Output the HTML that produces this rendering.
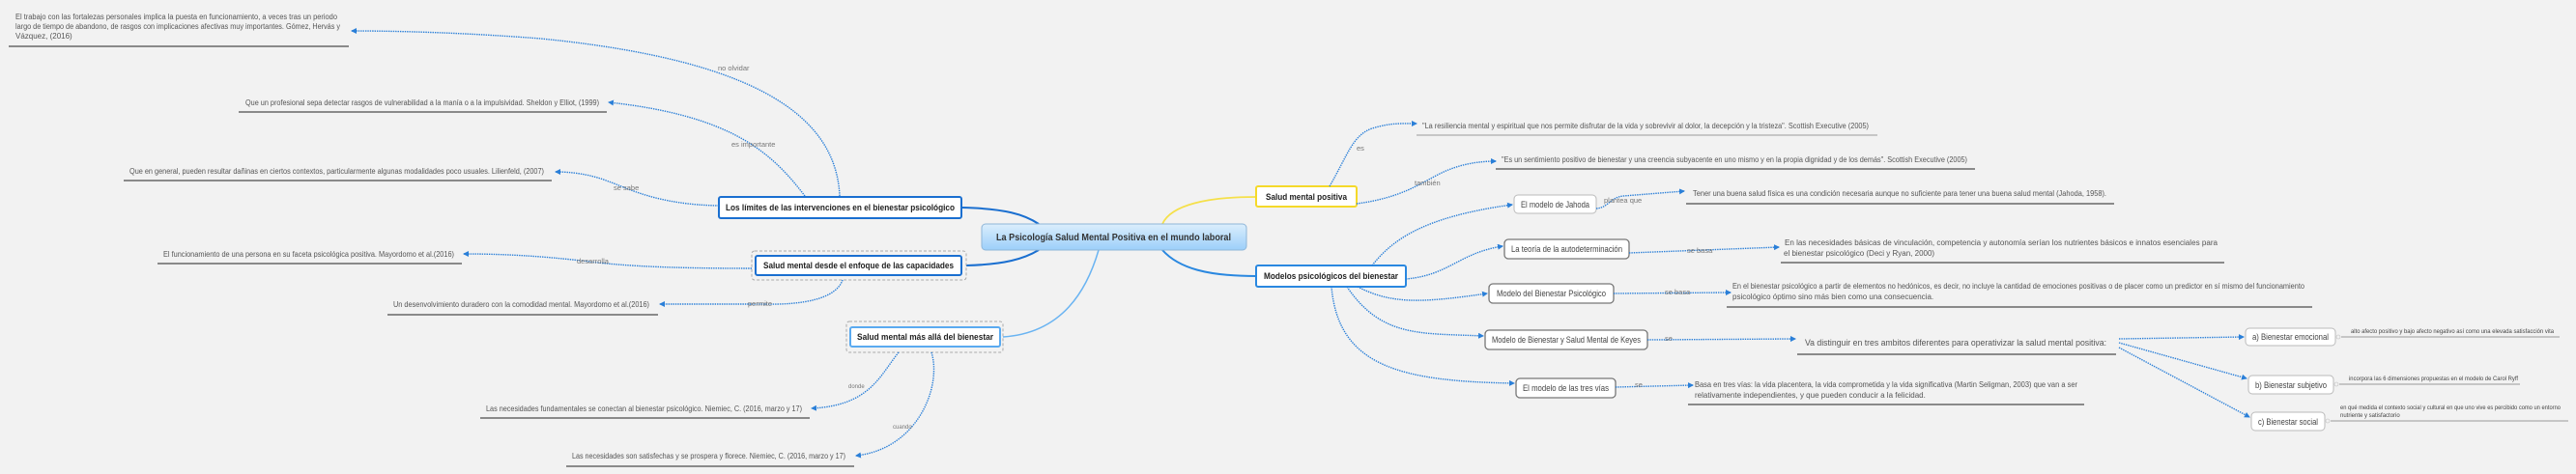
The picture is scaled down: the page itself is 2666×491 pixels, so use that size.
<!DOCTYPE html>
<html><head><meta charset="utf-8"><style>
html,body{margin:0;padding:0;background:#f2f2f2;}
svg{display:block;}
text{font-family:"Liberation Sans Narrow","Liberation Sans",sans-serif;fill:#555;}
.t{font-size:8px;}
.n{font-size:9px;fill:#222;font-weight:bold;}
.m{font-size:9px;fill:#444;}
.l{font-size:7.5px;fill:#777;}
.ul{stroke:#8a8a8a;stroke-width:2;}
.ul1{stroke:#9a9a9a;stroke-width:1;}
.d{fill:none;stroke:#2a7fd8;stroke-width:1.4;stroke-dasharray:1.4 1;}
</style></head><body>
<svg width="2666" height="491" viewBox="0 0 2666 491" xmlns="http://www.w3.org/2000/svg">
<defs>
<marker id="a" markerWidth="6" markerHeight="6" refX="5" refY="3" orient="auto" markerUnits="userSpaceOnUse"><path d="M0,0 L6,3 L0,6 Z" fill="#2a7fd8"/></marker>
<linearGradient id="g" x1="0" y1="0" x2="0" y2="1"><stop offset="0" stop-color="#dbeefc"/><stop offset="1" stop-color="#9ccffa"/></linearGradient>
</defs>

<!-- main solid connectors -->
<path d="M995,215 C1040,216 1060,222 1075,232" fill="none" stroke="#1a6fd0" stroke-width="2"/>
<path d="M1000,275 C1040,274 1060,268 1075,259" fill="none" stroke="#1a6fd0" stroke-width="2"/>
<path d="M1038,349 C1100,345 1125,300 1137,259" fill="none" stroke="#6ab4f2" stroke-width="1.5"/>
<path d="M1300,204 C1250,204 1212,212 1203,232" fill="none" stroke="#f5e04a" stroke-width="1.8"/>
<path d="M1300,286 C1250,286 1220,278 1203,259" fill="none" stroke="#2a88e0" stroke-width="2"/>

<!-- central -->
<rect x="1016" y="232" width="274" height="27" rx="4" fill="url(#g)" stroke="#8fb6d8"/>
<text x="1031" y="249" textLength="243" lengthAdjust="spacingAndGlyphs" style="font-size:10px;font-weight:bold;fill:#333;">La Psicología Salud Mental Positiva en el mundo laboral</text>

<!-- left nodes -->
<rect x="744" y="204" width="251" height="22" rx="2" fill="#fff" stroke="#1a6fd0" stroke-width="2"/>
<text class="n" x="751" y="218" textLength="237" lengthAdjust="spacingAndGlyphs">Los límites de las intervenciones en el bienestar psicológico</text>
<rect x="778" y="260" width="222" height="30" rx="3" fill="none" stroke="#aaa" stroke-dasharray="3 2"/>
<rect x="782" y="265" width="213" height="20" rx="2" fill="#fff" stroke="#1a6fd0" stroke-width="2"/>
<text class="n" x="790" y="278" textLength="197" lengthAdjust="spacingAndGlyphs">Salud mental desde el enfoque de las capacidades</text>
<rect x="876" y="333" width="162" height="32" rx="3" fill="none" stroke="#aaa" stroke-dasharray="3 2"/>
<rect x="880" y="339" width="155" height="20" rx="2" fill="#fff" stroke="#5aaaf0" stroke-width="2"/>
<text class="n" x="887" y="352" textLength="141" lengthAdjust="spacingAndGlyphs">Salud mental más allá del bienestar</text>

<!-- left connectors -->
<path class="d" d="M869,203 C865,110 760,60 560,40 C470,33 400,32 364,32" marker-end="url(#a)"/>
<text class="l" x="743" y="73">no olvidar</text>
<path class="d" d="M833,203 C800,160 760,120 630,106" marker-end="url(#a)"/>
<text class="l" x="757" y="152">es importante</text>
<path class="d" d="M744,213 C680,212 650,195 630,188 C610,180 590,178 575,178" marker-end="url(#a)"/>
<text class="l" x="635" y="197">se sabe</text>
<path class="d" d="M778,278 C700,278 650,276 610,271 C560,265 520,263 480,263" marker-end="url(#a)"/>
<text class="l" x="597" y="273">desarrolla</text>
<path class="d" d="M872,290 C865,310 830,316 790,315 L683,315" marker-end="url(#a)"/>
<text class="l" x="774" y="317">permite</text>
<path class="d" d="M930,365 C910,390 900,420 840,423" marker-end="url(#a)"/>
<text class="l" x="878" y="402" style="font-size:6px;">donde</text>
<path class="d" d="M964,365 C975,400 950,465 886,472" marker-end="url(#a)"/>
<text class="l" x="924" y="444" style="font-size:6px;">cuando</text>

<!-- left texts -->
<text class="t" x="16" y="20" textLength="333" lengthAdjust="spacingAndGlyphs">El trabajo con las fortalezas personales implica la puesta en funcionamiento, a veces tras un periodo</text>
<text class="t" x="16" y="30" textLength="336" lengthAdjust="spacingAndGlyphs">largo de tiempo de abandono, de rasgos con implicaciones afectivas muy importantes. Gómez, Hervás y</text>
<text class="t" x="16" y="40">Vázquez, (2016)</text>
<line class="ul" x1="9" y1="48" x2="361" y2="48"/>
<text class="t" x="254" y="109" textLength="366" lengthAdjust="spacingAndGlyphs">Que un profesional sepa detectar rasgos de vulnerabilidad a la manía o a la impulsividad. Sheldon y Elliot, (1999)</text>
<line class="ul" x1="247" y1="116" x2="628" y2="116"/>
<text class="t" x="134" y="180" textLength="429" lengthAdjust="spacingAndGlyphs">Que en general, pueden resultar dañinas en ciertos contextos, particularmente algunas modalidades poco usuales. Lilienfeld, (2007)</text>
<line class="ul" x1="128" y1="187" x2="571" y2="187"/>
<text class="t" x="169" y="266" textLength="301" lengthAdjust="spacingAndGlyphs">El funcionamiento de una persona en su faceta psicológica positiva. Mayordomo et al.(2016)</text>
<line class="ul" x1="163" y1="273" x2="478" y2="273"/>
<text class="t" x="407" y="318" textLength="265" lengthAdjust="spacingAndGlyphs">Un desenvolvimiento duradero con  la comodidad mental. Mayordomo et al.(2016)</text>
<line class="ul" x1="401" y1="326" x2="681" y2="326"/>
<text class="t" x="503" y="426" textLength="327" lengthAdjust="spacingAndGlyphs">Las necesidades fundamentales se conectan al bienestar psicológico. Niemiec, C. (2016, marzo y 17)</text>
<line class="ul" x1="497" y1="433" x2="838" y2="433"/>
<text class="t" x="592" y="475" textLength="283" lengthAdjust="spacingAndGlyphs">Las necesidades son satisfechas y se prospera y florece. Niemiec, C. (2016, marzo y 17)</text>
<line class="ul" x1="586" y1="483" x2="884" y2="483"/>

<!-- right nodes -->
<rect x="1300" y="193" width="104" height="21" rx="2" fill="#fff" stroke="#f5d92a" stroke-width="2"/>
<text class="n" x="1310" y="207" textLength="84" lengthAdjust="spacingAndGlyphs">Salud mental positiva</text>
<rect x="1300" y="275" width="155" height="22" rx="2" fill="#fff" stroke="#2a88e0" stroke-width="2"/>
<text class="n" x="1308" y="289" textLength="139" lengthAdjust="spacingAndGlyphs">Modelos psicológicos del bienestar</text>

<rect x="1567" y="202" width="85" height="19" rx="4" fill="#fff" stroke="#bbb"/>
<text class="m" x="1574" y="215" textLength="71" lengthAdjust="spacingAndGlyphs">El modelo de Jahoda</text>
<rect x="1557" y="248" width="129" height="20" rx="4" fill="#fff" stroke="#777" stroke-width="1.3"/>
<text class="m" x="1564" y="261" textLength="115" lengthAdjust="spacingAndGlyphs">La teoría de la autodeterminación</text>
<rect x="1541" y="294" width="129" height="20" rx="4" fill="#fff" stroke="#777" stroke-width="1.3"/>
<text class="m" x="1549" y="307" textLength="113" lengthAdjust="spacingAndGlyphs">Modelo del Bienestar Psicológico</text>
<rect x="1537" y="342" width="168" height="20" rx="4" fill="#fff" stroke="#777" stroke-width="1.3"/>
<text class="m" x="1544" y="355" textLength="154" lengthAdjust="spacingAndGlyphs">Modelo de Bienestar y Salud Mental de Keyes</text>
<rect x="1569" y="392" width="103" height="20" rx="4" fill="#fff" stroke="#777" stroke-width="1.3"/>
<text class="m" x="1576" y="405" textLength="89" lengthAdjust="spacingAndGlyphs">El modelo de las tres vías</text>

<rect x="2324" y="340" width="93" height="18" rx="4" fill="#fff" stroke="#bbb"/>
<text class="m" x="2331" y="352" textLength="79" lengthAdjust="spacingAndGlyphs">a) Bienestar emocional</text>
<rect x="2327" y="389" width="88" height="19" rx="4" fill="#fff" stroke="#bbb"/>
<text class="m" x="2334" y="402" textLength="74" lengthAdjust="spacingAndGlyphs">b) Bienestar subjetivo</text>
<rect x="2330" y="427" width="76" height="19" rx="4" fill="#fff" stroke="#bbb"/>
<text class="m" x="2337" y="440" textLength="62" lengthAdjust="spacingAndGlyphs">c) Bienestar social</text>

<!-- right connectors -->
<path class="d" d="M1376,193 C1395,160 1400,140 1420,133 C1440,127 1450,128 1466,128" marker-end="url(#a)"/>
<text class="l" x="1404" y="156">es</text>
<path class="d" d="M1404,211 C1450,205 1470,190 1490,180 C1510,170 1530,167 1548,167" marker-end="url(#a)"/>
<text class="l" x="1464" y="192">también</text>
<path class="d" d="M1420,275 C1440,250 1470,225 1565,212" marker-end="url(#a)"/>
<path class="d" d="M1455,289 C1500,285 1510,262 1555,255" marker-end="url(#a)"/>
<path class="d" d="M1405,297 C1440,315 1470,314 1539,304" marker-end="url(#a)"/>
<path class="d" d="M1394,297 C1430,350 1470,345 1535,348" marker-end="url(#a)"/>
<path class="d" d="M1378,297 C1385,380 1450,395 1567,397" marker-end="url(#a)"/>

<path class="d" d="M1652,216 C1665,215 1665,205 1680,203 L1743,198" marker-end="url(#a)"/>
<text class="l" x="1660" y="210">plantea que</text>
<path class="d" d="M1686,262 L1841,256" marker-end="url(#a)"/>
<text class="l" x="1746" y="262">se basa</text>
<path class="d" d="M1670,304 L1791,303" marker-end="url(#a)"/>
<text class="l" x="1723" y="305">se basa</text>
<path class="d" d="M1705,352 L1858,351" marker-end="url(#a)"/>
<text class="l" x="1723" y="353">se</text>
<path class="d" d="M1672,401 L1752,399" marker-end="url(#a)"/>
<text class="l" x="1692" y="401">se</text>

<path class="d" d="M2193,351 L2322,349" marker-end="url(#a)"/>
<path class="d" d="M2193,355 L2325,392" marker-end="url(#a)"/>
<path class="d" d="M2193,360 L2328,432" marker-end="url(#a)"/>

<!-- right texts -->
<text class="t" x="1472" y="133" textLength="462" lengthAdjust="spacingAndGlyphs">"La resiliencia mental y espiritual que nos permite disfrutar de la vida y sobrevivir al dolor, la decepción y la tristeza". Scottish Executive (2005)</text>
<line class="ul1" x1="1466" y1="140" x2="1943" y2="140"/>
<text class="t" x="1554" y="168" textLength="482" lengthAdjust="spacingAndGlyphs">"Es un sentimiento positivo de bienestar y una creencia subyacente en uno mismo y en la propia dignidad y de los demás". Scottish Executive (2005)</text>
<line class="ul" x1="1548" y1="175" x2="2044" y2="175"/>
<text class="t" x="1752" y="203" textLength="428" lengthAdjust="spacingAndGlyphs">Tener una buena salud física es una condición necesaria aunque no suficiente para tener una buena salud mental (Jahoda, 1958).</text>
<line class="ul" x1="1745" y1="211" x2="2188" y2="211"/>
<text class="t" x="1847" y="254" textLength="448" lengthAdjust="spacingAndGlyphs">En las necesidades básicas de vinculación, competencia y autonomía serían los nutrientes básicos e innatos esenciales para</text>
<text class="t" x="1846" y="265">el bienestar psicológico (Deci y Ryan, 2000)</text>
<line class="ul" x1="1843" y1="272" x2="2302" y2="272"/>
<text class="t" x="1793" y="299" textLength="592" lengthAdjust="spacingAndGlyphs">En el bienestar psicológico a partir de elementos no hedónicos, es decir, no incluye la cantidad de emociones positivas o de placer como un predictor en sí mismo del funcionamiento</text>
<text class="t" x="1793" y="310">psicológico óptimo sino más bien como una consecuencia.</text>
<line class="ul" x1="1787" y1="318" x2="2393" y2="318"/>
<text x="1868" y="358" textLength="312" lengthAdjust="spacingAndGlyphs" style="font-size:9px;fill:#555;">Va distinguir en tres ambitos diferentes  para operativizar la salud mental positiva:</text>
<line class="ul" x1="1860" y1="367" x2="2190" y2="367"/>
<text class="t" x="1754" y="401" textLength="396" lengthAdjust="spacingAndGlyphs">Basa en tres vías: la vida placentera, la vida comprometida y la vida significativa (Martin Seligman, 2003) que van a ser</text>
<text class="t" x="1754" y="412">relativamente independientes, y  que pueden conducir a la felicidad.</text>
<line class="ul" x1="1747" y1="419" x2="2157" y2="419"/>

<text x="2433" y="345" textLength="210" lengthAdjust="spacingAndGlyphs" style="font-size:6px;fill:#444;">alto afecto positivo y bajo afecto negativo así como una elevada satisfacción vita</text>
<circle cx="2420" cy="349" r="2" fill="none" stroke="#bbb" stroke-width="0.6"/>
<line class="ul1" x1="2423" y1="349" x2="2649" y2="349"/>
<text x="2431" y="394" textLength="175" lengthAdjust="spacingAndGlyphs" style="font-size:6px;fill:#444;">incorpora las 6 dimensiones propuestas en el modelo de Carol Ryff</text>
<circle cx="2418" cy="398" r="2" fill="none" stroke="#bbb" stroke-width="0.6"/>
<line class="ul1" x1="2421" y1="398" x2="2608" y2="398"/>
<text x="2422" y="424" textLength="228" lengthAdjust="spacingAndGlyphs" style="font-size:6px;fill:#444;">en qué medida el contexto social y cultural en que uno vive es percibido como un entorno</text>
<text x="2422" y="432" style="font-size:6px;fill:#444;">nutriente y satisfactorio</text>
<circle cx="2409" cy="436" r="2" fill="none" stroke="#bbb" stroke-width="0.6"/>
<line class="ul1" x1="2412" y1="436" x2="2658" y2="436"/>
</svg>
</body></html>
